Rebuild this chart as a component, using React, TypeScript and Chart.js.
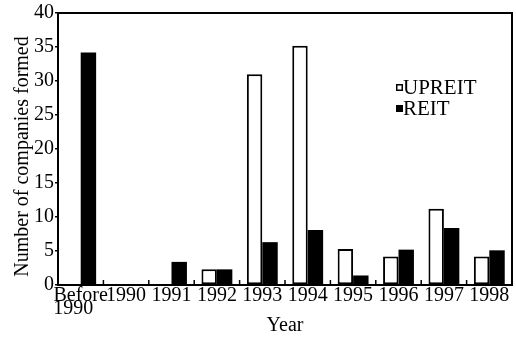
import React, { useEffect, useRef } from "react";
import { Chart, registerables } from "chart.js";

Chart.register(...registerables);

const categories: (string | string[])[] = [
  ["Before", "1990   "],
  "1990",
  "1991",
  "1992",
  "1993",
  "1994",
  "1995",
  "1996",
  "1997",
  "1998",
];
const upreitValues: (number | null)[] = [null, null, null, 2.3, 31.0, 35.2, 5.3, 4.2, 11.2, 4.2];
const reitValues: (number | null)[] = [34.2, null, 3.4, 2.3, 6.3, 8.1, 1.4, 5.2, 8.4, 5.1];
const yTicks = [0, 5, 10, 15, 20, 25, 30, 35, 40];

const FONT = "'Liberation Serif', 'Times New Roman', serif";

const framePlugin = {
  id: "frameAndTicks",
  afterDraw(chart: any) {
    const { ctx, chartArea } = chart;
    const xs = chart.scales.x;
    ctx.save();
    ctx.strokeStyle = "#000";
    ctx.lineWidth = 2;
    ctx.strokeRect(chartArea.left, chartArea.top, chartArea.right - chartArea.left, chartArea.bottom - chartArea.top);
    ctx.lineWidth = 1.5;
    const n = chart.data.labels.length;
    for (let i = 1; i < n; i++) {
      const x = (xs.getPixelForValue(i - 1) + xs.getPixelForValue(i)) / 2;
      ctx.beginPath();
      ctx.moveTo(x, chartArea.bottom);
      ctx.lineTo(x, chartArea.bottom - 5);
      ctx.stroke();
    }
    ctx.restore();
  },
};

const legendPlugin = {
  id: "insideLegend",
  afterDraw(chart: any) {
    const { ctx } = chart;
    ctx.save();
    ctx.font = `21px ${FONT}`;
    ctx.textBaseline = "middle";
    ctx.fillStyle = "#000";
    chart.data.datasets.forEach((ds: any, i: number) => {
      const y = 87 + i * 21;
      const bx = 396;
      if (ds.backgroundColor === "#ffffff") {
        ctx.fillStyle = "#fff";
        ctx.fillRect(bx, y - 3, 7, 7);
        ctx.lineWidth = 1.5;
        ctx.strokeStyle = "#000";
        ctx.strokeRect(bx + 0.75, y - 2.25, 5.5, 5.5);
      } else {
        ctx.fillStyle = "#000";
        ctx.fillRect(bx, y - 3, 7, 7);
      }
      ctx.fillStyle = "#000";
      ctx.fillText(ds.label, bx + 7, y + 1);
    });
    ctx.restore();
  },
};

export default function App() {
  const ref = useRef<HTMLCanvasElement | null>(null);
  useEffect(() => {
    document.body.style.margin = "0";
    const canvas = ref.current!;
    const chart = new Chart(canvas, {
      type: "bar",
      data: {
        labels: categories,
        datasets: [
          {
            label: "UPREIT",
            data: upreitValues,
            backgroundColor: "#ffffff",
            borderColor: "#000000",
            borderWidth: 2,
            borderSkipped: false,
            categoryPercentage: 0.68,
            barPercentage: 1,
          },
          {
            label: "REIT",
            data: reitValues,
            backgroundColor: "#000000",
            borderColor: "#000000",
            borderWidth: 0,
            categoryPercentage: 0.68,
            barPercentage: 1,
          },
        ],
      },
      options: {
        animation: false,
        responsive: false,
        maintainAspectRatio: false,
        layout: { padding: { top: 12, right: 4, left: 0, bottom: 0 } },
        plugins: {
          legend: { display: false },
          tooltip: { enabled: false },
        },
        scales: {
          x: {
            offset: true,
            grid: { display: false, drawTicks: false },
            border: { display: false },
            ticks: {
              color: "#000",
              font: { family: FONT, size: 20, lineHeight: 0.62 },
              padding: 5,
              maxRotation: 0,
              autoSkip: false,
            },
            title: {
              display: true,
              text: "Year",
              color: "#000",
              font: { family: FONT, size: 20 },
              padding: { top: 0, bottom: 2 },
            },
            afterFit: (s: any) => {
              s.height = 55;
            },
          },
          y: {
            min: 0,
            max: 40,
            afterBuildTicks: (s: any) => {
              s.ticks = yTicks.map((v) => ({ value: v }));
            },
            grid: { drawOnChartArea: false, drawTicks: true, tickLength: 3, color: "#000", lineWidth: 1.5 },
            border: { display: false },
            ticks: {
              color: "#000",
              font: { family: FONT, size: 20 },
              padding: 1,
            },
            title: {
              display: true,
              text: "Number of companies formed   ",
              color: "#000",
              font: { family: FONT, size: 20 },
              padding: { top: 11, bottom: 0 },
            },
            afterFit: (s: any) => {
              s.width = 58;
            },
          },
        },
      },
      plugins: [framePlugin, legendPlugin],
    });
    return () => chart.destroy();
  }, []);
  return <canvas ref={ref} width={516} height={340} style={{ display: "block", width: 516, height: 340 }} />;
}
